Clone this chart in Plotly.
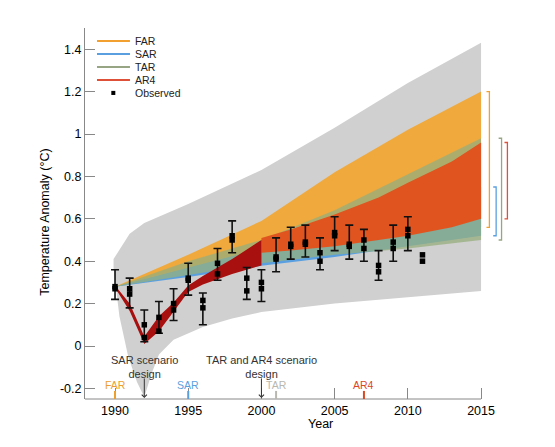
import plotly.graph_objects as go

# ---- data ----
# observations (two datasets shown as overlapping squares) + uncertainty bars
obs_years = list(range(1990, 2012))
obs_a = [0.28, 0.27, 0.10, 0.135, 0.20, 0.32, 0.215, 0.39, 0.52, 0.32, 0.30,
         0.42, 0.48, 0.49, 0.44, 0.535, 0.48, 0.50, 0.38, 0.49, 0.55, 0.43]
obs_b = [0.27, 0.245, 0.04, 0.07, 0.17, 0.31, 0.18, 0.34, 0.50, 0.26, 0.27,
         0.41, 0.47, 0.48, 0.40, 0.52, 0.47, 0.46, 0.35, 0.46, 0.52, 0.40]
err_hi = [0.36, 0.32, 0.17, 0.21, 0.27, 0.39, 0.25, 0.46, 0.59, 0.37, 0.36,
          0.51, 0.56, 0.57, 0.51, 0.61, 0.57, 0.55, 0.45, 0.57, 0.61, None]
err_lo = [0.22, 0.18, 0.02, 0.06, 0.12, 0.24, 0.10, 0.31, 0.44, 0.22, 0.21,
          0.35, 0.41, 0.42, 0.36, 0.45, 0.41, 0.40, 0.31, 0.40, 0.45, None]

# grey envelope
gray_up_x = [1989.9, 1991, 1992, 1995, 2000, 2005, 2010, 2015]
gray_up_y = [0.41, 0.53, 0.58, 0.67, 0.83, 1.03, 1.24, 1.43]
gray_lo_x = [1989.9, 1990.3, 1990.9, 1991.5, 1992, 1992.5, 1993, 1994, 1996,
             1998, 2000, 2005, 2010, 2015]
gray_lo_y = [0.37, 0.14, -0.05, -0.17, -0.24, -0.13, -0.04, 0.03, 0.09,
             0.13, 0.16, 0.20, 0.23, 0.26]

# assessment report projection ranges
band_years = [1990, 1995, 2000, 2005, 2010, 2015]
far_hi = [0.28, 0.43, 0.59, 0.82, 1.02, 1.20]
far_lo = [0.28, 0.35, 0.41, 0.46, 0.51, 0.56]
sar_hi = [0.28, 0.37, 0.46, 0.56, 0.65, 0.75]
sar_lo = [0.28, 0.325, 0.378, 0.42, 0.47, 0.52]
tar_hi = [0.28, 0.40, 0.50, 0.64, 0.81, 0.98]
tar_lo = [0.28, 0.335, 0.39, 0.43, 0.46, 0.50]

ar4_years = [2000, 2002, 2005, 2008, 2010, 2013, 2015]
ar4_hi = [0.51, 0.55, 0.62, 0.70, 0.77, 0.87, 0.96]
ar4_lo = [0.44, 0.45, 0.47, 0.50, 0.52, 0.56, 0.60]

hind_years = [1990, 1991, 1992, 1993, 1994, 1995, 1996, 1998, 2000]
hind_hi = [0.285, 0.20, 0.045, 0.14, 0.205, 0.285, 0.33, 0.41, 0.50]
hind_lo = [0.275, 0.165, 0.01, 0.07, 0.16, 0.255, 0.29, 0.34, 0.38]

reports = ["FAR", "SAR", "TAR", "AR4"]
report_years = [1990, 1995, 2001, 2007]
design_years = [1992, 2000]
design_text = ["SAR scenario<br>design", "TAR and AR4 scenario<br>design"]

ytick_vals = [-0.2, 0, 0.2, 0.4, 0.6, 0.8, 1.0, 1.2, 1.4]
ytick_text = ["-0.2", "0", "0.2", "0.4", "0.6", "0.8", "1", "1.2", "1.4"]
xtick_vals = [1990, 1995, 2000, 2005, 2010, 2015]

X_RANGE = [1987.95, 2020.05]
Y_RANGE = [-0.25, 1.5]

FONT = "Liberation Sans, Arial, sans-serif"
line_cols = {"FAR": "#f2a131", "SAR": "#5aa0e0", "TAR": "#98a585", "AR4": "#de5038"}
label_cols = {"FAR": "#eda030", "SAR": "#5aa0e0", "TAR": "#b8b8b0", "AR4": "#d9481f"}


def band(xs, hi, lo, color, x_lo=None):
    x_lo = xs if x_lo is None else x_lo
    return go.Scatter(x=list(xs) + list(x_lo)[::-1], y=list(hi) + list(lo)[::-1],
                      fill="toself", fillcolor=color, mode="lines",
                      line=dict(width=0), hoverinfo="skip")


fig = go.Figure()
fig.add_trace(band(gray_up_x, gray_up_y, gray_lo_y, "#d0d0d0", gray_lo_x))
fig.add_trace(band(band_years, far_hi, far_lo, "#f0a93c"))
fig.add_trace(band(band_years, sar_hi, sar_lo, "#5aa0e0"))
fig.add_trace(band(band_years, tar_hi, tar_lo, "rgba(150,175,125,0.75)"))
fig.add_trace(band(ar4_years, ar4_hi, ar4_lo, "#e0541f"))
fig.add_trace(band(hind_years, hind_hi, hind_lo, "#a80f0f"))

# observations
bar_idx = [i for i, v in enumerate(err_hi) if v is not None]
fig.add_trace(go.Scatter(
    x=[obs_years[i] for i in bar_idx],
    y=[obs_a[i] for i in bar_idx],
    mode="markers", marker=dict(size=1, color="black"),
    error_y=dict(type="data", symmetric=False,
                 array=[err_hi[i] - obs_a[i] for i in bar_idx],
                 arrayminus=[obs_a[i] - err_lo[i] for i in bar_idx],
                 color="#111", thickness=1.6, width=4),
))
for vals in (obs_a, obs_b):
    fig.add_trace(go.Scatter(x=obs_years, y=vals, mode="markers",
                             marker=dict(symbol="square", size=5.5, color="black",
                                         line=dict(width=0))))

shapes = []
# bottom axis line only up to 2015
shapes.append(dict(type="line", xref="x", yref="paper", x0=X_RANGE[0], x1=2015,
                   y0=0, y1=0, line=dict(color="#888", width=1)))

# range brackets at 2015
brackets = [("FAR", far_hi[-1], far_lo[-1], 2015.57),
            ("SAR", sar_hi[-1], sar_lo[-1], 2016.03),
            ("TAR", tar_hi[-1], tar_lo[-1], 2016.40),
            ("AR4", ar4_hi[-1], ar4_lo[-1], 2016.80)]
for name, hi, lo, bx in brackets:
    c = line_cols[name]
    shapes.append(dict(type="path", xref="x", yref="y",
                       path=f"M {bx-0.2},{hi} L {bx},{hi} L {bx},{lo} L {bx-0.2},{lo}",
                       line=dict(color=c, width=1.3)))

# report markers on the axis
annotations = []
for name, yr in zip(reports, report_years):
    shapes.append(dict(type="line", xref="x", yref="y", x0=yr, x1=yr,
                       y0=-0.212, y1=Y_RANGE[0], line=dict(color=label_cols[name], width=2)))
    annotations.append(dict(x=yr, y=-0.182, xref="x", yref="y", text=name,
                            showarrow=False, yanchor="middle",
                            font=dict(size=10.5, color=label_cols[name])))

for yr, txt in zip(design_years, design_text):
    annotations.append(dict(x=yr, y=-0.097, xref="x", yref="y", text=txt,
                            showarrow=False, yanchor="middle",
                            font=dict(size=11, color="#333")))
    annotations.append(dict(x=yr, y=Y_RANGE[0] + 0.005, xref="x", yref="y", text="",
                            showarrow=True, ax=0, ay=-21, arrowhead=4, arrowsize=1,
                            arrowwidth=1, arrowcolor="#333"))

# hand-made legend (compact spacing)
leg_y = [0.965, 0.930, 0.895, 0.860, 0.825]
for name, ly in zip(reports, leg_y):
    shapes.append(dict(type="line", xref="paper", yref="paper", x0=0.0255, x1=0.0957,
                       y0=ly, y1=ly, line=dict(color=line_cols[name], width=2)))
    annotations.append(dict(x=0.102, y=ly, xref="paper", yref="paper", text=name,
                            xanchor="left", yanchor="middle", showarrow=False,
                            font=dict(size=10.5, color="#222")))
shapes.append(dict(type="rect", xref="paper", yref="paper", x0=0.0560, x1=0.0645,
                   y0=leg_y[4] - 0.0055, y1=leg_y[4] + 0.0055,
                   fillcolor="black", line=dict(width=0)))
annotations.append(dict(x=0.102, y=leg_y[4], xref="paper", yref="paper", text="Observed",
                        xanchor="left", yanchor="middle", showarrow=False,
                        font=dict(size=10.5, color="#222")))

# axis titles
annotations.append(dict(x=0.5, y=-0.068, xref="paper", yref="paper", text="Year",
                        showarrow=False, xanchor="center", yanchor="middle",
                        font=dict(size=12.5, color="black")))
annotations.append(dict(x=-0.085, y=0.475, xref="paper", yref="paper",
                        text="Temperature Anomaly (°C)", textangle=-90,
                        xanchor="center", yanchor="middle",
                        showarrow=False, font=dict(size=12.5, color="black")))

# the page adds an 8px body margin, so the margins are shifted by that amount
fig.update_layout(
    width=555, height=447,
    margin=dict(l=77, r=8, t=20, b=56),
    paper_bgcolor="white", plot_bgcolor="white",
    showlegend=False,
    font=dict(family=FONT, size=12.5, color="black"),
    shapes=shapes, annotations=annotations,
    xaxis=dict(range=X_RANGE, tickvals=xtick_vals, ticks="inside", ticklen=11,
               tickcolor="#888", showline=False, showgrid=False, zeroline=False,
               layer="below traces", tickfont=dict(size=12.5), ticklabelstandoff=2),
    yaxis=dict(range=Y_RANGE, tickvals=ytick_vals, ticktext=ytick_text,
               ticks="inside", ticklen=10, tickcolor="#888", showline=True,
               linecolor="#888", linewidth=1, showgrid=False, zeroline=False,
               tickfont=dict(size=12.5)),
)

fig.write_html("out.html")
